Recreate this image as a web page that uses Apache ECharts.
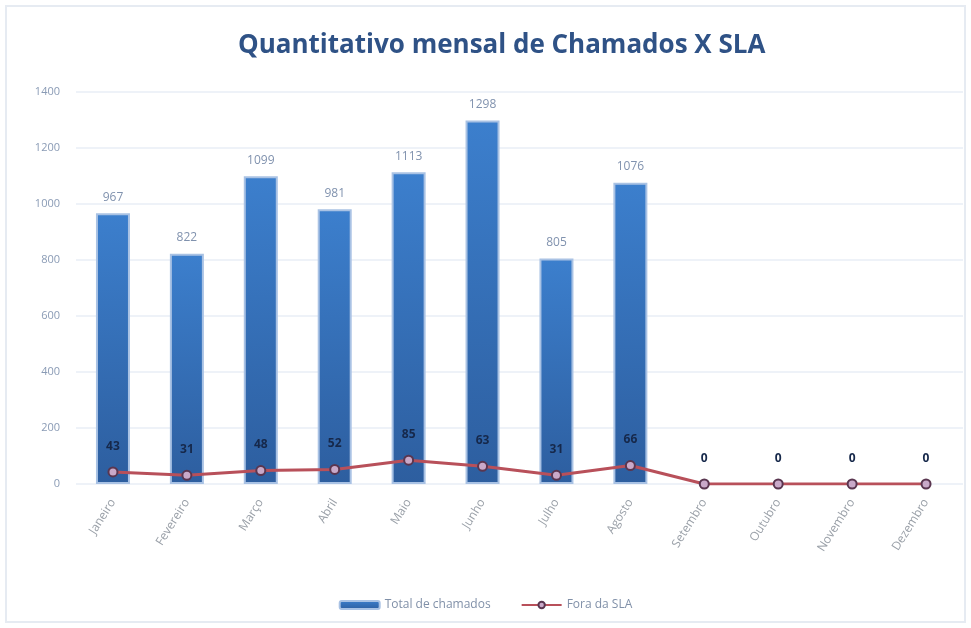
<!DOCTYPE html>
<html>
<head>
<meta charset="utf-8">
<script src="https://cdn.jsdelivr.net/npm/echarts@6/dist/echarts.min.js"></script>
<style>
  html, body { margin: 0; padding: 0; background: #fff; }
  #chart { width: 971px; height: 628px; }
</style>
</head>
<body>
<div id="chart"></div>
<script>
const meses = ['Janeiro', 'Fevereiro', 'Março', 'Abril', 'Maio', 'Junho', 'Julho', 'Agosto',
    'Setembro', 'Outubro', 'Novembro', 'Dezembro'];
const totalChamados = [967, 822, 1099, 981, 1113, 1298, 805, 1076, 0, 0, 0, 0];
const foraSla = [43, 31, 48, 52, 85, 63, 31, 66, 0, 0, 0, 0];

const chart = echarts.init(document.getElementById('chart'));

// empty months: no border stub on the bar
const barData = totalChamados.map(v => (v > 0 ? v : { value: v, itemStyle: { borderWidth: 0 } }));

chart.setOption({
    backgroundColor: '#fff',
    graphic: [{
        type: 'rect',
        shape: { x: 6, y: 6, width: 959, height: 616 },
        style: { fill: 'none', stroke: '#E6EBF2', lineWidth: 2 },
        silent: true
    }],
    title: {
        text: 'Quantitativo mensal de Chamados X SLA',
        left: 233,
        top: 28,
        textStyle: {
            fontFamily: 'Open Sans',
            fontSize: 26,
            fontWeight: 'bold',
            color: '#2F5286'
        }
    },
    grid: { left: 76, right: 8, top: 92, bottom: 144 },
    legend: {
        bottom: 12,
        left: 'center',
        itemWidth: 40,
        itemHeight: 8,
        itemGap: 30,
        textStyle: { color: '#8090A8', fontSize: 12, fontFamily: 'Open Sans' },
        data: ['Total de chamados', 'Fora da SLA']
    },
    xAxis: {
        type: 'category',
        data: meses,
        axisLine: { show: false },
        axisTick: { show: false },
        axisLabel: {
            rotate: 58,
            interval: 0,
            color: '#9AA0A8',
            fontSize: 12,
            margin: 16,
            fontFamily: 'Open Sans'
        }
    },
    yAxis: {
        type: 'value',
        min: 0,
        max: 1400,
        interval: 200,
        axisLine: { show: false },
        axisTick: { show: false },
        axisLabel: {
            color: '#8A9BB5',
            fontSize: 11,
            margin: 16,
            fontFamily: 'Open Sans',
            formatter: v => String(v)
        },
        splitLine: { lineStyle: { color: '#EEF2F8', width: 2 } }
    },
    series: [
        {
            name: 'Total de chamados',
            type: 'bar',
            data: barData,
            barWidth: 34,
            itemStyle: {
                color: new echarts.graphic.LinearGradient(0, 0, 0, 1, [
                    { offset: 0, color: '#3C7FCD' },
                    { offset: 1, color: '#2D5E9F' }
                ]),
                borderColor: '#A9C2E4',
                borderWidth: 2
            },
            label: {
                show: true,
                position: 'top',
                distance: 10,
                color: '#8092AE',
                fontSize: 12,
                fontFamily: 'Open Sans',
                formatter: p => (p.value > 0 ? p.value : '')
            }
        },
        {
            name: 'Fora da SLA',
            type: 'line',
            data: foraSla,
            symbol: 'circle',
            symbolSize: 9,
            lineStyle: { color: '#B8505A', width: 3 },
            itemStyle: { color: '#C9A9C9', borderColor: '#5A3650', borderWidth: 2 },
            label: {
                show: true,
                position: 'top',
                distance: 14,
                color: '#16284A',
                fontSize: 12,
                fontWeight: 'bold',
                fontFamily: 'Open Sans'
            },
            z: 3
        }
    ]
});
</script>
</body>
</html>
